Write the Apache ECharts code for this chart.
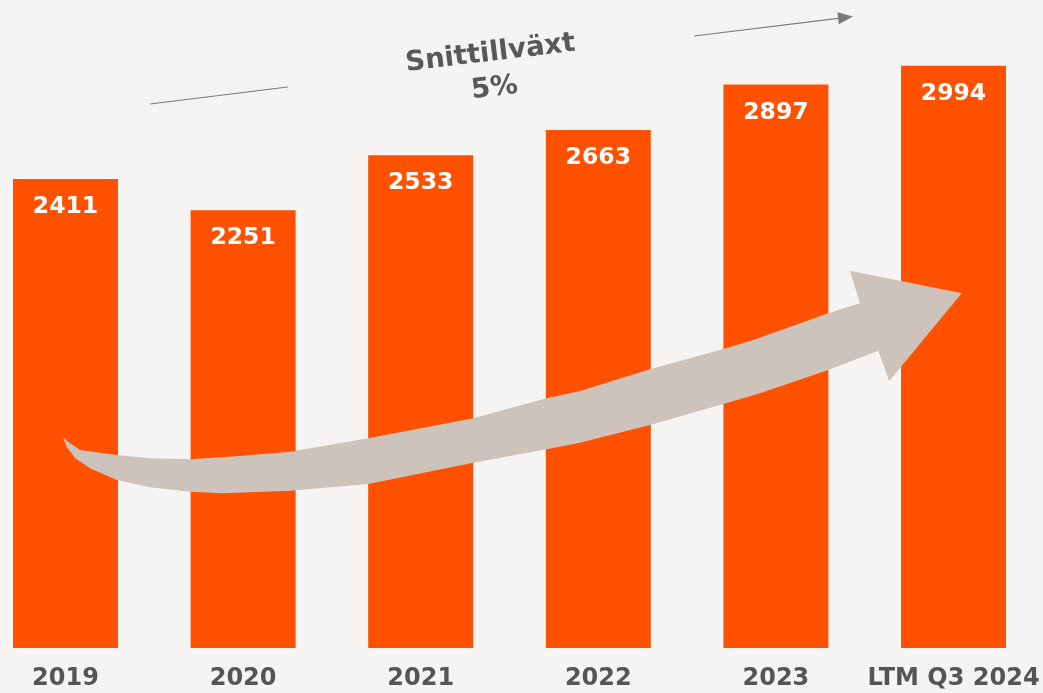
<!DOCTYPE html>
<html>
<head>
<meta charset="utf-8">
<title>Snittillväxt</title>
<script src="https://cdn.jsdelivr.net/npm/echarts@6/dist/echarts.min.js"></script>
<style>
  html, body { margin: 0; padding: 0; background: #f5f4f2; }
  #chart { width: 1043px; height: 693px; }
</style>
</head>
<body>
<div id="chart"></div>
<script>
var years = ['2019', '2020', '2021', '2022', '2023', 'LTM Q3 2024'];
var values = [2411, 2251, 2533, 2663, 2897, 2994];

// big curved arrow behind the trend (decoration only)
var trendArrow = [
    [62.7, 436.7], [67, 441], [80, 450], [116.7, 455], [150, 458.3], [190, 459.3],
    [240, 456], [290, 451.7], [368.3, 438.3], [473.3, 418.3], [546.7, 398.3],
    [580, 391], [650, 369.3], [723.3, 349], [753.3, 340], [828.3, 313.3],
    [860, 303.3], [850, 270.7], [961.7, 293.3], [889.3, 381], [878.3, 350.7],
    [828.3, 370], [760, 393.3], [723.3, 404], [650, 425], [580, 442.7],
    [546.7, 449.3], [473.3, 462.7], [368.3, 484], [290, 490.7], [223, 493.3],
    [190, 491.7], [150, 487.3], [116.7, 480], [90, 468.3], [75, 458], [66.7, 446.7]
];

var chart = echarts.init(document.getElementById('chart'));
chart.setOption({
    backgroundColor: '#f5f4f2',
    animation: false,
    grid: {
        left: 65.5,
        right: 89.5,
        top: 64.5,
        bottom: 45
    },
    xAxis: {
        type: 'category',
        data: years,
        boundaryGap: false,
        axisLine: { show: false },
        axisTick: { show: false },
        axisLabel: {
            interval: 0,
            margin: 19,
            color: '#555555',
            fontFamily: 'DejaVu Sans',
            fontWeight: 'bold',
            fontSize: 24
        }
    },
    yAxis: {
        type: 'value',
        min: 0,
        max: 3000,
        show: false,
        splitLine: { show: false }
    },
    series: [
        {
            type: 'bar',
            data: values,
            barWidth: 105,
            clip: false,
            itemStyle: { color: '#ff5100' },
            label: {
                show: true,
                position: 'insideTop',
                distance: 16,
                color: '#ffffff',
                fontFamily: 'DejaVu Sans',
                fontWeight: 'bold',
                fontSize: 23.5
            }
        }
    ],
    graphic: [
        {
            type: 'polygon',
            z: 10,
            shape: { points: trendArrow },
            style: { fill: '#cdc3ba' }
        },
        {
            type: 'line',
            shape: { x1: 150, y1: 104, x2: 287.7, y2: 87 },
            style: { stroke: '#7a7a7a', lineWidth: 1.2 }
        },
        {
            type: 'line',
            shape: { x1: 694, y1: 36, x2: 838.1, y2: 18.3 },
            style: { stroke: '#7a7a7a', lineWidth: 1.2 }
        },
        {
            type: 'polygon',
            shape: { points: [[853, 16.5], [838.8, 24.3], [837.4, 12.3]] },
            style: { fill: '#7a7a7a' }
        },
        {
            type: 'text',
            x: 492.5,
            y: 71,
            rotation: 0.12,
            style: {
                text: 'Snittillväxt\n5%',
                fill: '#58585a',
                font: 'bold 27.5px "DejaVu Sans"',
                lineHeight: 35,
                align: 'center',
                verticalAlign: 'middle'
            }
        }
    ]
});
</script>
</body>
</html>
